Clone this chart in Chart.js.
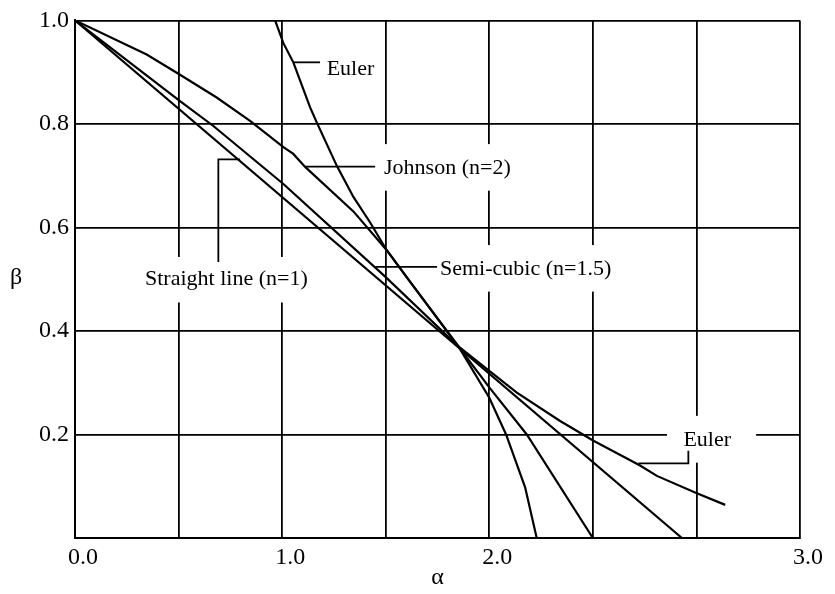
<!DOCTYPE html>
<html>
<head>
<meta charset="utf-8">
<script src="https://cdn.jsdelivr.net/npm/chart.js@4.4.0/dist/chart.umd.min.js"></script>
<style>
  html, body { margin: 0; padding: 0; background: #fff; }
  #wrap { width: 835px; height: 594px; }
</style>
</head>
<body>
<div id="wrap"><canvas id="c" width="835" height="594"></canvas></div>
<script>
// Column strength ratio β against slenderness parameter α for four formulas.
const straightAlpha = [0.0, 2.93];
const straightBeta  = [1.0, 0.0];

const semiAlpha = [0.0, 0.507, 0.668, 1.006, 1.5, 1.851, 2.0, 2.181, 2.5];
const semiBeta  = [1.0, 0.844, 0.796, 0.684, 0.504, 0.370, 0.291, 0.200, 0.0];

const johnsonAlpha = [0.0, 0.346, 0.507, 0.684, 0.845, 1.006, 1.054, 1.111, 1.344, 1.505, 1.618, 1.851, 2.0, 2.081, 2.173, 2.229];
const johnsonBeta  = [1.0, 0.934, 0.895, 0.851, 0.806, 0.755, 0.742, 0.717, 0.631, 0.556, 0.495, 0.370, 0.271, 0.200, 0.098, 0.0];

const eulerAlpha = [0.966, 1.006, 1.054, 1.135, 1.167, 1.264, 1.344, 1.424, 1.505, 1.618, 1.851, 2.0, 2.133, 2.342, 2.503, 2.728, 2.809, 3.002, 3.139];
const eulerBeta  = [1.0, 0.956, 0.919, 0.832, 0.803, 0.719, 0.659, 0.610, 0.556, 0.495, 0.370, 0.323, 0.281, 0.226, 0.188, 0.140, 0.120, 0.0865, 0.064];

const xTickLabels = ['0.0', '', '1.0', '', '2.0', '', '', '3.0'];
const yTickLabels = ['', '0.2', '0.4', '0.6', '0.8', '1.0'];

const SERIF = "'Liberation Serif', 'Times New Roman', Times, serif";
const INK = '#000';

function pairs(xs, ys) { return xs.map((x, i) => ({ x: x, y: ys[i] })); }

function curve(label, xs, ys) {
  return {
    label: label,
    data: pairs(xs, ys),
    borderColor: INK,
    borderWidth: 2.2,
    pointRadius: 0,
    tension: 0,
    fill: false
  };
}

// Curve labels with their leader lines and the white patches behind them,
// all placed in (α, β) units.
const notes = [
  { text: 'Euler', at: [1.215, 0.895], box: null,
    leader: [[1.054, 0.919], [1.183, 0.919]] },
  { text: 'Johnson (n=2)', at: [1.492, 0.703], box: [1.463, 0.761, 2.139, 0.671],
    leader: [[1.111, 0.7175], [1.449, 0.7175]] },
  { text: 'Semi-cubic (n=1.5)', at: [1.762, 0.509], box: [1.748, 0.566, 2.612, 0.476],
    leader: [[1.445, 0.524], [1.748, 0.524]] },
  { text: 'Straight line (n=1)', at: [0.338, 0.489], box: [0.304, 0.543, 1.144, 0.455],
    leader: [[0.692, 0.533], [0.692, 0.7315], [0.797, 0.7315]] },
  { text: 'Euler', at: [2.937, 0.178], box: [2.858, 0.236, 3.288, 0.1455],
    leader: [[2.72, 0.144], [2.961, 0.144], [2.961, 0.1685]] }
];

const notePatches = {
  id: 'notePatches',
  beforeDatasetsDraw(chart) {
    const { ctx, scales: { x, y } } = chart;
    ctx.save();
    ctx.fillStyle = '#fff';
    notes.forEach(n => {
      if (!n.box) return;
      const x0 = x.getPixelForValue(n.box[0]), y0 = y.getPixelForValue(n.box[1]);
      const x1 = x.getPixelForValue(n.box[2]), y1 = y.getPixelForValue(n.box[3]);
      ctx.fillRect(x0, y0, x1 - x0, y1 - y0);
    });
    ctx.restore();
  }
};

const noteLabels = {
  id: 'noteLabels',
  afterDatasetsDraw(chart) {
    const { ctx, scales: { x, y } } = chart;
    ctx.save();
    ctx.strokeStyle = INK;
    ctx.lineWidth = 1.8;
    ctx.fillStyle = INK;
    ctx.font = '22px ' + SERIF;
    ctx.textAlign = 'left';
    ctx.textBaseline = 'alphabetic';
    notes.forEach(n => {
      ctx.beginPath();
      n.leader.forEach((p, i) => {
        const px = x.getPixelForValue(p[0]), py = y.getPixelForValue(p[1]);
        if (i === 0) ctx.moveTo(px, py); else ctx.lineTo(px, py);
      });
      ctx.stroke();
      ctx.fillText(n.text, x.getPixelForValue(n.at[0]), y.getPixelForValue(n.at[1]));
    });
    ctx.restore();
  }
};

// Upright β beside the vertical axis.
const betaTitle = {
  id: 'betaTitle',
  afterDraw(chart) {
    const { ctx, chartArea } = chart;
    ctx.save();
    ctx.fillStyle = INK;
    ctx.font = '24px ' + SERIF;
    ctx.textAlign = 'center';
    ctx.textBaseline = 'alphabetic';
    ctx.fillText('β', 16, (chartArea.top + chartArea.bottom) / 2 + 5);
    ctx.restore();
  }
};

new Chart(document.getElementById('c'), {
  type: 'line',
  data: {
    datasets: [
      curve('Straight line (n=1)', straightAlpha, straightBeta),
      curve('Semi-cubic (n=1.5)', semiAlpha, semiBeta),
      curve('Johnson (n=2)', johnsonAlpha, johnsonBeta),
      curve('Euler', eulerAlpha, eulerBeta)
    ]
  },
  options: {
    responsive: false,
    animation: false,
    devicePixelRatio: 1,
    layout: { padding: { top: 17, right: 35, bottom: 0, left: 0 } },
    plugins: {
      legend: { display: false },
      tooltip: { enabled: false }
    },
    scales: {
      x: {
        type: 'linear',
        min: 0,
        max: 3.5,
        afterFit(scale) { scale.height = 56; },
        grid: { color: INK, lineWidth: 1.8, drawTicks: false },
        border: { color: INK, width: 2 },
        ticks: {
          stepSize: 0.5,
          autoSkip: false,
          maxRotation: 0,
          padding: 5,
          labelOffset: 8,
          color: INK,
          font: { family: SERIF, size: 24 },
          callback: (v, i) => xTickLabels[i]
        },
        title: {
          display: true,
          text: 'α',
          color: INK,
          font: { family: SERIF, size: 24 },
          padding: { top: 0, bottom: 2 }
        }
      },
      y: {
        type: 'linear',
        min: 0,
        max: 1,
        afterFit(scale) { scale.width = 75; },
        grid: { color: INK, lineWidth: 1.8, drawTicks: false },
        border: { color: INK, width: 2 },
        ticks: {
          stepSize: 0.2,
          padding: 6,
          color: INK,
          font: { family: SERIF, size: 24 },
          callback: (v, i) => yTickLabels[i]
        }
      }
    }
  },
  plugins: [notePatches, noteLabels, betaTitle]
});
</script>
</body>
</html>
